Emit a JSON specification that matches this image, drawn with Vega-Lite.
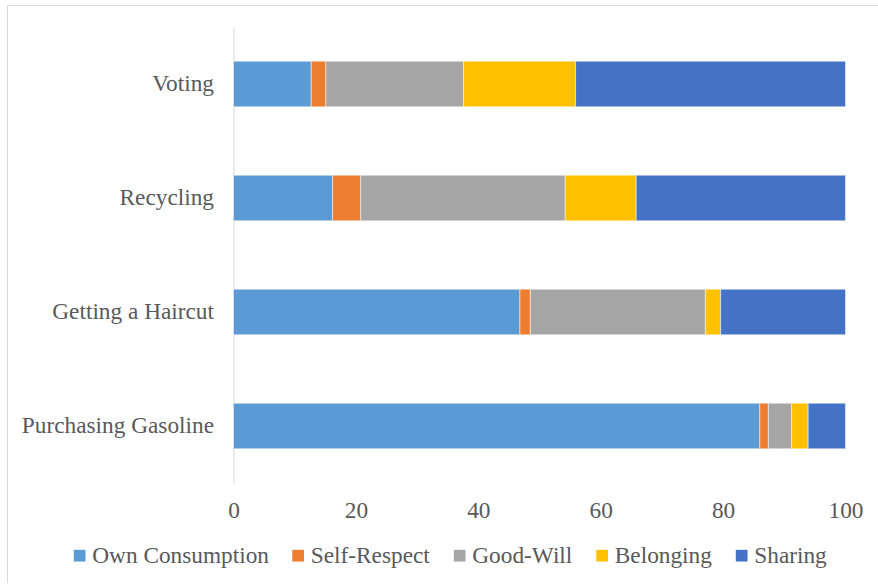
{
  "$schema": "https://vega.github.io/schema/vega-lite/v6.json",
  "autosize": {"type": "none"},
  "padding": {"left": 7, "top": 5, "right": 0, "bottom": 0},
  "width": 871,
  "height": 578,
  "background": "white",
  "config": {
    "font": "Times New Roman, Liberation Serif, serif",
    "axis": {"labelFont": "Times New Roman, Liberation Serif, serif"},
    "legend": {"labelFont": "Times New Roman, Liberation Serif, serif"},
    "view": {"stroke": "#d9d9d9", "strokeWidth": 1}
  },
  "data": {
    "values": [
      {"activity": "Voting", "motive": "Own Consumption", "k": 1, "value": 12.7},
      {"activity": "Voting", "motive": "Self-Respect", "k": 2, "value": 2.4},
      {"activity": "Voting", "motive": "Good-Will", "k": 3, "value": 22.5},
      {"activity": "Voting", "motive": "Belonging", "k": 4, "value": 18.3},
      {"activity": "Voting", "motive": "Sharing", "k": 5, "value": 44.1},
      {"activity": "Recycling", "motive": "Own Consumption", "k": 1, "value": 16.2},
      {"activity": "Recycling", "motive": "Self-Respect", "k": 2, "value": 4.6},
      {"activity": "Recycling", "motive": "Good-Will", "k": 3, "value": 33.4},
      {"activity": "Recycling", "motive": "Belonging", "k": 4, "value": 11.6},
      {"activity": "Recycling", "motive": "Sharing", "k": 5, "value": 34.2},
      {"activity": "Getting a Haircut", "motive": "Own Consumption", "k": 1, "value": 46.8},
      {"activity": "Getting a Haircut", "motive": "Self-Respect", "k": 2, "value": 1.7},
      {"activity": "Getting a Haircut", "motive": "Good-Will", "k": 3, "value": 28.6},
      {"activity": "Getting a Haircut", "motive": "Belonging", "k": 4, "value": 2.5},
      {"activity": "Getting a Haircut", "motive": "Sharing", "k": 5, "value": 20.4},
      {"activity": "Purchasing Gasoline", "motive": "Own Consumption", "k": 1, "value": 86.0},
      {"activity": "Purchasing Gasoline", "motive": "Self-Respect", "k": 2, "value": 1.4},
      {"activity": "Purchasing Gasoline", "motive": "Good-Will", "k": 3, "value": 3.8},
      {"activity": "Purchasing Gasoline", "motive": "Belonging", "k": 4, "value": 2.7},
      {"activity": "Purchasing Gasoline", "motive": "Sharing", "k": 5, "value": 6.1}
    ]
  },
  "mark": {"type": "bar", "stroke": "white", "strokeWidth": 0.5},
  "encoding": {
    "y": {
      "field": "activity",
      "type": "nominal",
      "sort": ["Voting", "Recycling", "Getting a Haircut", "Purchasing Gasoline"],
      "scale": {"range": [22, 478], "paddingInner": 0.6, "paddingOuter": 0.3},
      "axis": {
        "title": null,
        "offset": -226.5,
        "domainColor": "#d9d9d9",
        "domainWidth": 1,
        "ticks": false,
        "labelPadding": 20,
        "labelFontSize": 23.3,
        "labelColor": "#595959",
        "labelLimit": 400
      }
    },
    "x": {
      "field": "value",
      "type": "quantitative",
      "stack": "zero",
      "scale": {"domain": [0, 100], "range": [226.5, 838.5], "nice": false},
      "axis": {
        "title": null,
        "offset": -100,
        "values": [0, 20, 40, 60, 80, 100],
        "domain": false,
        "ticks": false,
        "grid": false,
        "labelFlush": false,
        "labelPadding": 16,
        "labelFontSize": 23.3,
        "labelColor": "#595959"
      }
    },
    "color": {
      "field": "motive",
      "type": "nominal",
      "sort": ["Own Consumption", "Self-Respect", "Good-Will", "Belonging", "Sharing"],
      "scale": {
        "domain": ["Own Consumption", "Self-Respect", "Good-Will", "Belonging", "Sharing"],
        "range": ["#5B9BD5", "#ED7D31", "#A5A5A5", "#FFC000", "#4472C4"]
      },
      "legend": {
        "title": null,
        "orient": "none",
        "direction": "horizontal",
        "legendX": 61,
        "legendY": 539,
        "columns": 5,
        "symbolType": "square",
        "symbolSize": 137,
        "symbolStrokeWidth": 0,
        "labelFontSize": 23.3,
        "labelColor": "#595959",
        "labelOffset": 1,
        "columnPadding": 17.5,
        "labelLimit": 400
      }
    },
    "order": {"field": "k", "type": "quantitative"}
  }
}
